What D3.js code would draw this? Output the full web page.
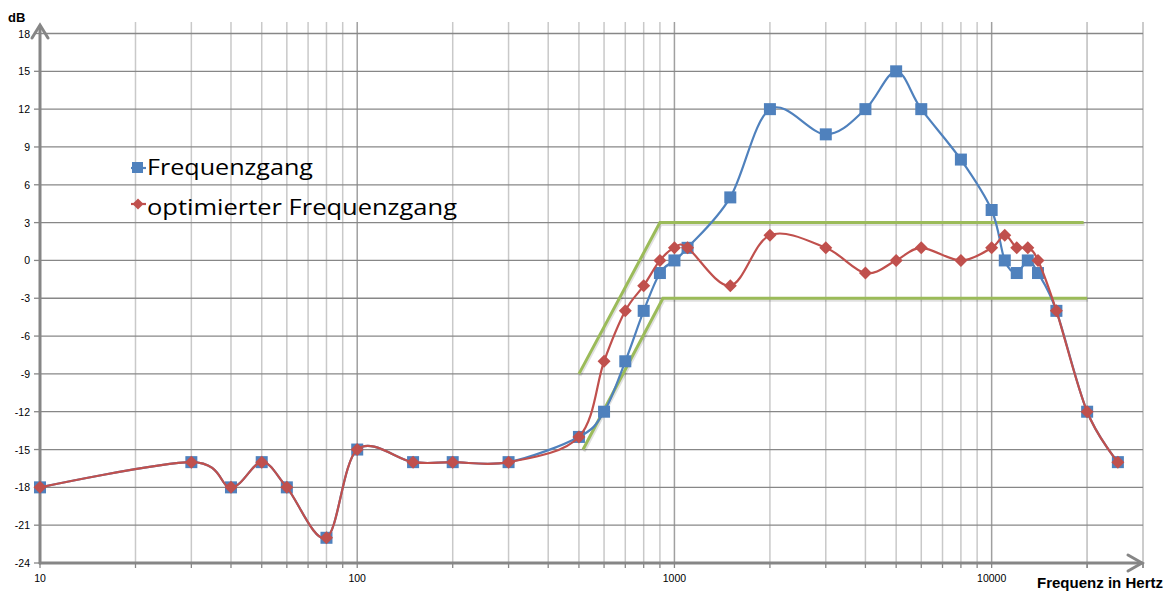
<!DOCTYPE html>
<html><head><meta charset="utf-8">
<script src="https://cdn.jsdelivr.net/npm/d3@7"></script>
<style>body{margin:0;background:#fff}svg{display:block}</style>
</head><body>
<svg id="c" width="1168" height="591"></svg>
<script>
const freqs = [10,30,40,50,60,80,100,150,200,300,500,600,700,800,900,1000,1100,1500,2000,3000,4000,5000,6000,8000,10000,11000,12000,13000,14000,16000,20000,25000];
const frequenzgang = [-18,-16,-18,-16,-18,-22,-15,-16,-16,-16,-14,-12,-8,-4,-1,0,1,5,12,10,12,15,12,8,4,0,-1,0,-1,-4,-12,-16];
const optimiert = [-18,-16,-18,-16,-18,-22,-15,-16,-16,-16,-14,-8,-4,-2,0,1,1,-2,2,1,-1,0,1,0,1,2,1,1,0,-4,-12,-16];
const upperFreqs = [500,900,19500];
const upperDb = [-9,3,3];
const lowerFreqs = [515,920,20000];
const lowerDb = [-15,-3,-3];
const yTicks = [-24,-21,-18,-15,-12,-9,-6,-3,0,3,6,9,12,15,18];
const xMajor = [10,100,1000,10000];
const seriesNames = ["Frequenzgang","optimierter Frequenzgang"];

const svg = d3.select("#c");
const x = d3.scaleLog().domain([10,30000]).range([40,1143]);
const y = d3.scaleLinear().domain([-24,18]).range([563,33.5]);

// minor vertical grid
const minor = [];
for (let d=10; d<=10000; d*=10) for (let k=1;k<=9;k++){ const v=d*k; if(v<=30000) minor.push(v);}
minor.push(20000,30000);
const g = svg.append("g");
g.selectAll(".vm").data(minor.filter(v=>!xMajor.includes(v))).join("line")
 .attr("x1",d=>x(d)).attr("x2",d=>x(d)).attr("y1",22).attr("y2",563)
 .attr("stroke","#c9c9c9").attr("stroke-width",1.5);
g.selectAll(".vM").data(xMajor.slice(1)).join("line")
 .attr("x1",d=>x(d)).attr("x2",d=>x(d)).attr("y1",22).attr("y2",563)
 .attr("stroke","#a0a0a0").attr("stroke-width",1.5);
g.selectAll(".h").data(yTicks.slice(1)).join("line")
 .attr("x1",40).attr("x2",1143).attr("y1",d=>y(d)).attr("y2",d=>y(d))
 .attr("stroke","#878787").attr("stroke-width",1.3);

// y tick marks and labels
g.selectAll(".yt").data(yTicks).join("line")
 .attr("x1",34).attr("x2",40).attr("y1",d=>y(d)).attr("y2",d=>y(d))
 .attr("stroke","#878787").attr("stroke-width",1.3);
g.selectAll(".yl").data(yTicks).join("text")
 .attr("x",30).attr("y",d=>y(d)+4).attr("text-anchor","end")
 .attr("font-family","Liberation Sans, Arial, sans-serif").attr("font-size",10.5).attr("fill","#000")
 .text(d=>d);
// x tick marks & labels
g.selectAll(".xt").data(minor).join("line")
 .attr("x1",d=>x(d)).attr("x2",d=>x(d)).attr("y1",563).attr("y2",568)
 .attr("stroke","#878787").attr("stroke-width",1.3);
g.selectAll(".xl").data(xMajor).join("text")
 .attr("x",d=>x(d)).attr("y",582).attr("text-anchor","middle")
 .attr("font-family","Liberation Sans, Arial, sans-serif").attr("font-size",10.5).attr("fill","#000")
 .text(d=>d);

// axes with arrows
const ax = svg.append("g").attr("stroke","#868686").attr("stroke-width",3).attr("fill","none").attr("stroke-linecap","round");
ax.append("line").attr("x1",40).attr("x2",40).attr("y1",26).attr("y2",563);
ax.append("line").attr("x1",40).attr("x2",1142).attr("y1",563).attr("y2",563);
ax.append("path").attr("d","M32,38 L40,25 L48,38");
ax.append("path").attr("d","M1128,555 L1142,563 L1128,571");

svg.append("text").attr("x",8).attr("y",22).attr("font-family","Liberation Sans, Arial, sans-serif")
 .attr("font-weight","bold").attr("font-size",13).text("dB");
svg.append("text").attr("x",1037).attr("y",588).attr("font-family","Liberation Sans, Arial, sans-serif")
 .attr("font-weight","bold").attr("font-size",14).attr("textLength",126).attr("lengthAdjust","spacingAndGlyphs").text("Frequenz in Hertz");

// green tolerance lines
const lineG = d3.line().x(d=>x(d[0])).y(d=>y(d[1]));
const up = upperFreqs.map((f,i)=>[f,upperDb[i]]);
const lo = lowerFreqs.map((f,i)=>[f,lowerDb[i]]);
[up,lo].forEach(pts=>{
  svg.append("path").attr("d",lineG(pts)).attr("transform","translate(1,2)").attr("fill","none")
   .attr("stroke","#000").attr("stroke-opacity",0.12).attr("stroke-width",3);
  svg.append("path").attr("d",lineG(pts)).attr("fill","none").attr("stroke","#9bbb59").attr("stroke-width",3);
});

const curve = d3.line().x(d=>x(d[0])).y(d=>y(d[1])).curve(d3.curveCardinal.tension(0));
const blue = freqs.map((f,i)=>[f,frequenzgang[i]]);
const red = freqs.map((f,i)=>[f,optimiert[i]]);
svg.append("path").attr("d",curve(blue)).attr("fill","none").attr("stroke","#4f81bd").attr("stroke-width",2.2);
svg.selectAll(".bm").data(blue).join("rect")
 .attr("x",d=>x(d[0])-6).attr("y",d=>y(d[1])-6).attr("width",12).attr("height",12).attr("fill","#4f81bd");
svg.append("path").attr("d",curve(red)).attr("fill","none").attr("stroke","#c0504d").attr("stroke-width",2.2);
const diamond = "M0,-6.5 L6.5,0 L0,6.5 L-6.5,0 Z";
svg.selectAll(".rm").data(red).join("path")
 .attr("d",diamond).attr("transform",d=>`translate(${x(d[0])},${y(d[1])})`).attr("fill","#c0504d");

// legend
const lg = svg.append("g");
lg.append("line").attr("x1",131).attr("x2",146).attr("y1",168).attr("y2",168).attr("stroke","#4f81bd").attr("stroke-width",2.2);
lg.append("rect").attr("x",132).attr("y",162).attr("width",11).attr("height",11).attr("fill","#4f81bd");
lg.append("text").attr("x",147).attr("y",175).attr("font-family","Open Sans, sans-serif").attr("font-size",22)
 .attr("textLength",166).attr("lengthAdjust","spacingAndGlyphs").text(seriesNames[0]);
lg.append("line").attr("x1",131).attr("x2",146).attr("y1",204).attr("y2",204).attr("stroke","#c0504d").attr("stroke-width",2.2);
lg.append("path").attr("d","M0,-5.5 L5.5,0 L0,5.5 L-5.5,0 Z").attr("transform","translate(138,204)").attr("fill","#c0504d");
lg.append("text").attr("x",147).attr("y",215).attr("font-family","Open Sans, sans-serif").attr("font-size",22)
 .attr("textLength",310).attr("lengthAdjust","spacingAndGlyphs").text(seriesNames[1]);
</script>
</body></html>
